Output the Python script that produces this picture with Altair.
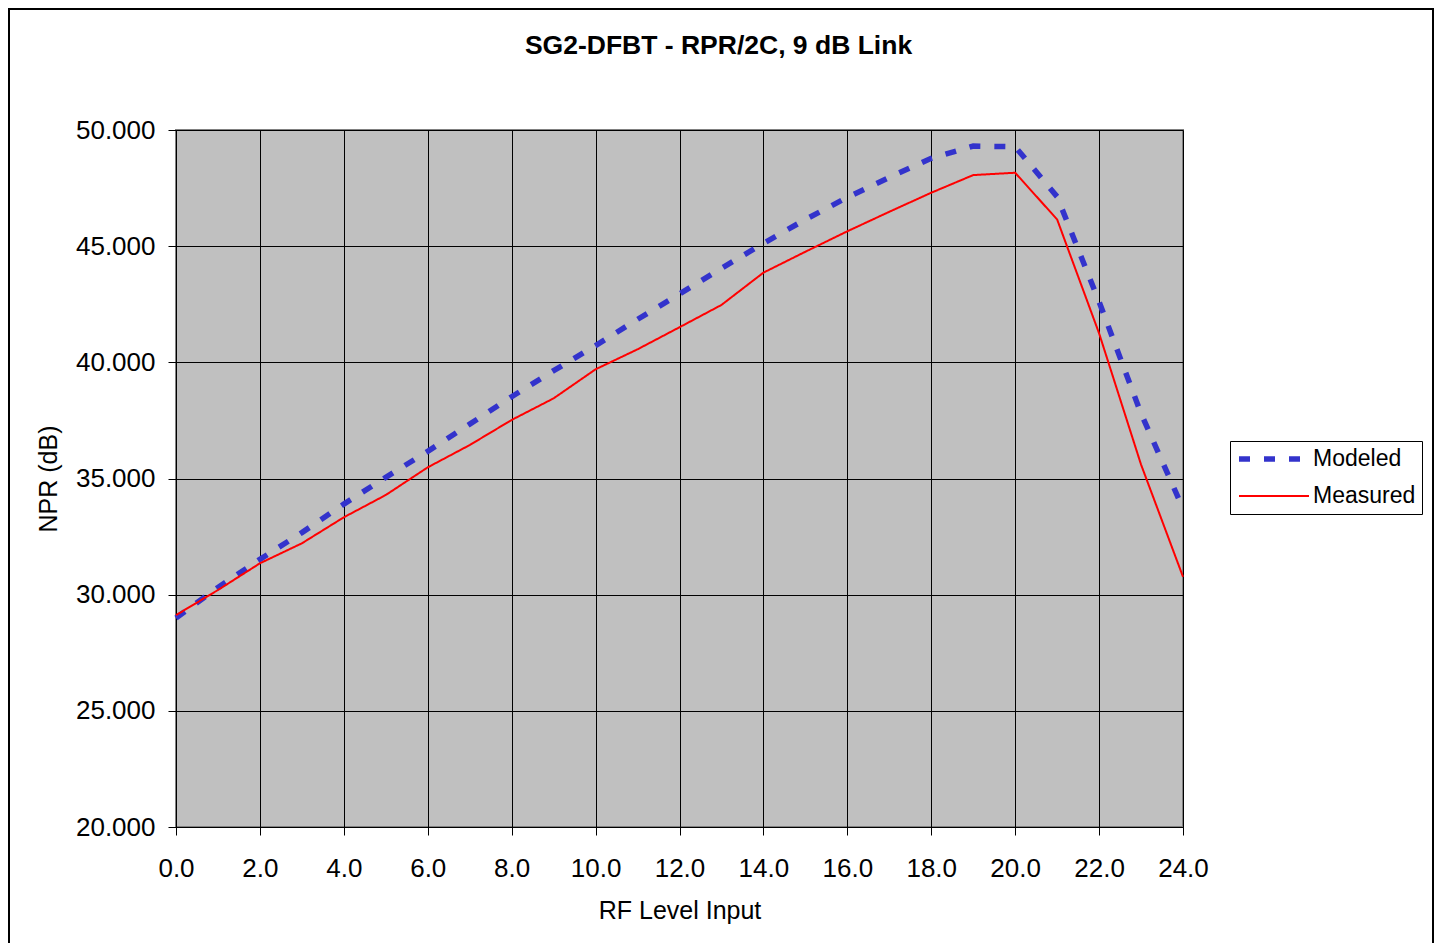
import altair as alt
import pandas as pd

rf_level = list(range(25))
modeled = [29.00, 30.31, 31.52, 32.67, 33.90, 35.05, 36.17, 37.34, 38.52, 39.64,
           40.72, 41.85, 42.94, 44.05, 45.12, 46.15, 47.10, 47.96, 48.78, 49.31,
           49.28, 47.13, 42.61, 37.80, 33.71]
measured = [29.12, 30.20, 31.35, 32.21, 33.33, 34.29, 35.48, 36.44, 37.52, 38.45,
            39.70, 40.56, 41.51, 42.47, 43.86, 44.76, 45.64, 46.48, 47.30, 48.06,
            48.16, 46.15, 41.25, 35.60, 30.77]
series_names = ["Modeled", "Measured"]
series_colors = ["#3333CC", "#FF0000"]
x_ticks = list(range(0, 25, 2))
y_ticks = list(range(20, 51, 5))

rows = []
for name, vals in zip(series_names, [modeled, measured]):
    for xv, yv in zip(rf_level, vals):
        rows.append({"rf": xv, "npr": yv, "series": name})
df = pd.DataFrame(rows)

FONT = "Liberation Sans"

lines = alt.Chart(df).mark_line(strokeCap="butt").encode(
    x=alt.X("rf:Q",
            scale=alt.Scale(domain=[0, 24], nice=False, zero=False),
            axis=alt.Axis(values=x_ticks, format=".1f", title="RF Level Input",
                          labelPadding=20, labelFlush=False, labelOverlap=False,
                          labelBound=False,
                          titleBaseline="alphabetic", titleY=91)),
    y=alt.Y("npr:Q",
            scale=alt.Scale(domain=[20, 50], nice=False, zero=False),
            axis=alt.Axis(values=y_ticks, format=".3f", title="NPR (dB)",
                          labelPadding=13, labelFlush=False, labelOverlap=False,
                          titleBaseline="alphabetic", titleX=-120)),
    color=alt.Color("series:N", scale=alt.Scale(domain=series_names, range=series_colors),
                    legend=alt.Legend(title=None)),
    strokeDash=alt.StrokeDash("series:N",
                              scale=alt.Scale(domain=series_names, range=[[11, 14], [1, 0]]),
                              legend=alt.Legend(title=None)),
    strokeWidth=alt.StrokeWidth("series:N",
                                scale=alt.Scale(domain=series_names, range=[5.5, 2]),
                                legend=alt.Legend(title=None)),
)

frame_df = pd.DataFrame({"k": [0]})
frame = alt.Chart(frame_df).mark_rect(filled=False, stroke="black", strokeWidth=2).encode(
    x=alt.value(-167), x2=alt.value(1257), y=alt.value(-121), y2=alt.value(900)
)

chart = alt.layer(lines, frame).properties(
    width=1007,
    height=697,
    title=alt.TitleParams("SG2-DFBT - RPR/2C, 9 dB Link", font=FONT, fontSize=26.5,
                          fontWeight="bold", color="black", anchor="middle", frame="group",
                          dx=39, baseline="alphabetic", offset=-72.4),
    autosize=alt.AutoSizeParams(type="none"),
    padding={"left": 168, "top": 122, "right": 251, "bottom": 116},
).configure(
    font=FONT,
    background="white",
).configure_view(
    fill="#C0C0C0", stroke="#808080", strokeWidth=2,
).configure_axis(
    domainColor="black", domainWidth=1, tickColor="black", tickSize=8, tickWidth=1,
    gridColor="black", gridWidth=1, gridOpacity=1,
    labelFont=FONT, labelFontSize=26, labelColor="black",
    titleFont=FONT, titleFontSize=25, titleFontWeight="normal", titleColor="black",
).configure_legend(
    orient="none", legendX=1054, legendY=311,
    fillColor="white", strokeColor="black", strokeWidth=1, padding=6,
    symbolType="stroke", symbolSize=4900, clipHeight=24, rowPadding=13,
    labelFont=FONT, labelFontSize=23, labelColor="black", labelOffset=1,
    symbolOffset=0,
)

chart.save("out.html", embed_options={"renderer": "svg", "actions": False})
